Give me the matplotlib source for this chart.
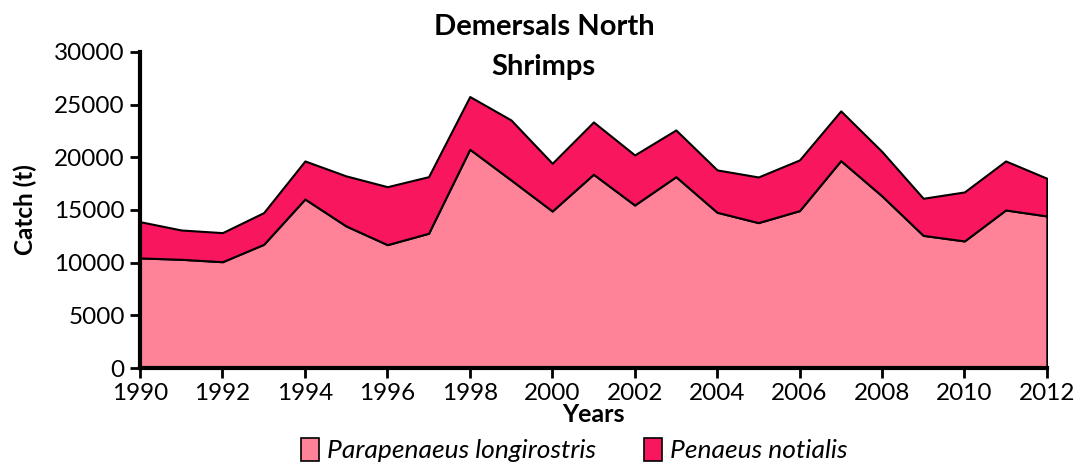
import matplotlib
matplotlib.use("Agg")
import matplotlib.pyplot as plt
from matplotlib.patches import Patch

plt.rcParams['font.family'] = ['Lato', 'DejaVu Sans']

years = list(range(1990, 2013))
# catch in tonnes
parapenaeus = [10450, 10320, 10090, 11740, 16040, 13480, 11710, 12790, 20760, 17850,
               14900, 18390, 15470, 18160, 14780, 13800, 14940, 19680, 16330, 12590,
               12060, 15000, 14430]
total = [13890, 13100, 12850, 14750, 19650, 18230, 17210, 18160, 25760, 23540,
         19430, 23350, 20220, 22590, 18800, 18130, 19750, 24400, 20540, 16110,
         16710, 19650, 18010]
penaeus = [t - p for t, p in zip(total, parapenaeus)]

labels = ["Parapenaeus longirostris", "Penaeus notialis"]
colors = ["#FF8398", "#F8165E"]

fig = plt.figure(figsize=(10.77, 4.63), dpi=100)
ax = fig.add_axes([0.130, 0.205, 0.842, 0.683])

ax.stackplot(years, parapenaeus, penaeus, colors=colors,
             edgecolor="black", linewidth=1.5)

ax.set_xlim(1990, 2012)
ax.set_ylim(0, 30000)
ax.set_xticks(range(1990, 2013, 2))
ax.set_yticks(range(0, 30001, 5000))
ax.tick_params(axis="both", direction="out", length=7, width=2, labelsize=17.5, pad=4)

for s in ["top", "right"]:
    ax.spines[s].set_visible(False)
for s in ["left", "bottom"]:
    ax.spines[s].set_linewidth(3)

ax.set_ylabel("Catch (t)", fontsize=17.5, fontweight="bold", labelpad=12)
ax.set_xlabel("Years", fontsize=18, fontweight="bold", labelpad=-1)

fig.text(0.505, 0.942, "Demersals North", ha="center", va="center",
         fontsize=21, fontweight="bold")
fig.text(0.505, 0.855, "Shrimps", ha="center", va="center",
         fontsize=21, fontweight="bold")

handles = [Patch(facecolor=c, edgecolor="black", linewidth=1.2) for c in colors]
leg = fig.legend(handles, labels, loc="center", bbox_to_anchor=(0.533, 0.028),
                 ncol=2, frameon=False, handlelength=0.7, handleheight=1.0,
                 handletextpad=0.3, columnspacing=1.8,
                 prop={"size": 19, "style": "italic"})

fig.savefig("out.png", dpi=100)
